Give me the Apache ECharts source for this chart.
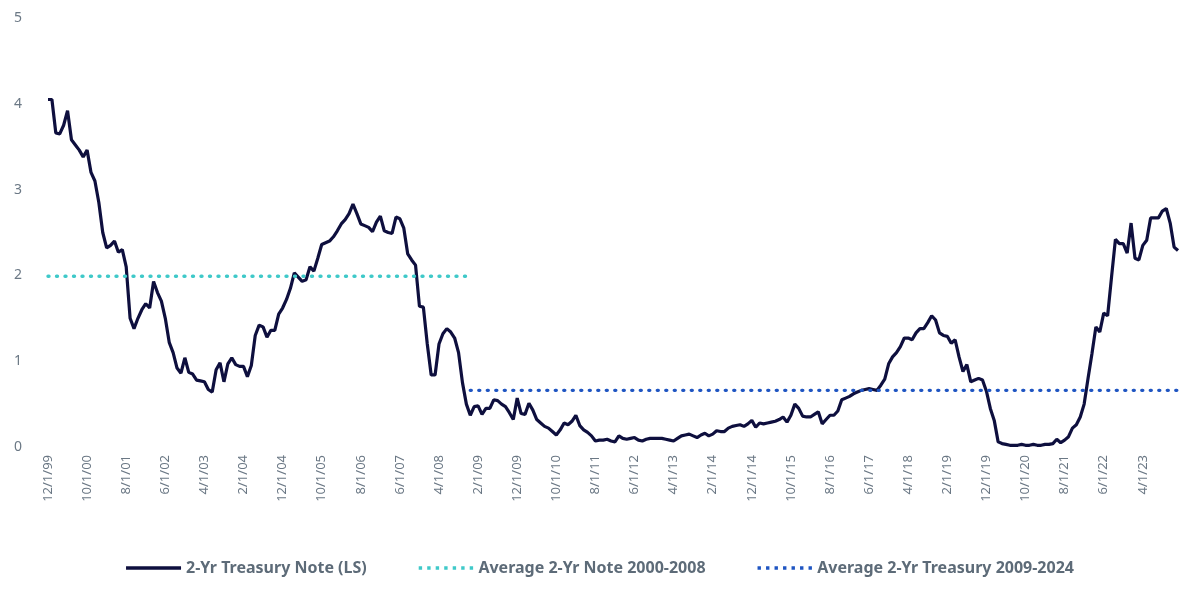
<!DOCTYPE html>
<html><head><meta charset="utf-8">
<script src="https://cdn.jsdelivr.net/npm/echarts@6/dist/echarts.min.js"></script>
<style>html,body{margin:0;padding:0;background:#fff}#c{width:1200px;height:595px}</style>
</head><body><div id="c"></div>
<script>
const startYear = 1999, startMonth = 12;
const yields2yr = [
4.05,4.05,3.66,3.65,3.75,3.92,3.58,3.52,3.46,3.38,
3.46,3.2,3.1,2.85,2.5,2.32,2.35,2.4,2.27,2.3,
2.1,1.5,1.38,1.5,1.6,1.67,1.62,1.93,1.8,1.7,
1.5,1.22,1.1,0.92,0.86,1.04,0.87,0.85,0.78,0.77,
0.76,0.67,0.64,0.9,0.98,0.76,0.97,1.04,0.96,0.94,
0.94,0.82,0.95,1.3,1.42,1.4,1.28,1.36,1.36,1.55,
1.62,1.72,1.85,2.03,1.98,1.93,1.95,2.1,2.05,2.2,
2.36,2.38,2.4,2.45,2.52,2.6,2.65,2.72,2.83,2.72,
2.6,2.58,2.56,2.51,2.62,2.69,2.52,2.5,2.49,2.68,
2.66,2.55,2.25,2.18,2.12,1.64,1.63,1.2,0.84,0.84,
1.2,1.32,1.38,1.34,1.27,1.1,0.75,0.5,0.37,0.47,
0.48,0.38,0.45,0.45,0.55,0.54,0.5,0.47,0.4,0.32,
0.57,0.39,0.38,0.51,0.43,0.32,0.28,0.24,0.22,0.18,
0.14,0.2,0.28,0.26,0.3,0.37,0.25,0.2,0.17,0.13,
0.07,0.08,0.08,0.09,0.07,0.06,0.13,0.1,0.09,0.1,
0.11,0.08,0.07,0.09,0.1,0.1,0.1,0.1,0.09,0.08,
0.07,0.1,0.13,0.14,0.15,0.13,0.11,0.14,0.16,0.13,
0.15,0.19,0.18,0.18,0.22,0.24,0.25,0.26,0.24,0.27,
0.31,0.23,0.28,0.27,0.28,0.29,0.3,0.32,0.35,0.29,
0.37,0.5,0.45,0.36,0.35,0.35,0.38,0.41,0.27,0.32,
0.37,0.37,0.42,0.55,0.57,0.59,0.62,0.64,0.66,0.67,
0.68,0.67,0.66,0.72,0.79,0.97,1.05,1.1,1.17,1.27,
1.27,1.25,1.33,1.38,1.38,1.45,1.53,1.48,1.33,1.3,
1.29,1.21,1.25,1.05,0.88,0.96,0.76,0.78,0.8,0.78,
0.65,0.45,0.31,0.06,0.04,0.03,0.02,0.02,0.02,0.03,
0.02,0.02,0.03,0.02,0.02,0.03,0.03,0.04,0.09,0.05,
0.08,0.12,0.22,0.26,0.35,0.5,0.8,1.09,1.4,1.34,
1.56,1.53,1.98,2.42,2.37,2.37,2.26,2.61,2.2,2.18,
2.35,2.41,2.67,2.67,2.67,2.75,2.78,2.61,2.33,2.29];
const avg2000_2008 = 1.99;
const avg2009_2024 = 0.66;
const avg1End = 107;
const avg2Start = 108;
const yTicks = [0,1,2,3,4,5];

const categories = yields2yr.map((_, i) => {
  const m0 = startMonth - 1 + i;
  const y = startYear + Math.floor(m0 / 12);
  const m = (m0 % 12) + 1;
  return m + '/1/' + String(y % 100).padStart(2, '0');
});
const avg1 = yields2yr.map((_, i) => i <= avg1End ? avg2000_2008 : null);
const avg2 = yields2yr.map((_, i) => i >= avg2Start ? avg2009_2024 : null);

let dots = '';
for (let k = 0; k < 7; k++) dots += 'M' + (k * 8.5) + ',0h3.4v3.4h-3.4Z';
const dotIcon = 'path://' + dots;

const chart = echarts.init(document.getElementById('c'));
chart.setOption({
  animation: false,
  grid: { left: 48, right: 22, top: 18, bottom: 148 },
  xAxis: {
    type: 'category', data: categories, boundaryGap: false,
    axisLine: { show: false }, axisTick: { show: false },
    axisLabel: { interval: 9, rotate: 90, color: '#6b7885', fontSize: 13, fontFamily: 'Noto Sans', margin: 8 }
  },
  yAxis: {
    type: 'value', min: 0, max: 5, interval: 1,
    splitLine: { show: false }, axisLine: { show: false }, axisTick: { show: false },
    axisLabel: { color: '#6b7885', fontSize: 14, fontFamily: 'Noto Sans', margin: 26,
      formatter: v => yTicks.includes(v) ? String(v) : '' }
  },
  legend: {
    bottom: 14, left: 'center', itemWidth: 55, itemHeight: 3.4, itemGap: 52,
    textStyle: { color: '#5d6b78', fontSize: 16, fontWeight: 'bold', fontFamily: 'Noto Sans' },
    data: [
      { name: '2-Yr Treasury Note (LS)', icon: 'path://M0,0H55V3.4H0Z' },
      { name: 'Average 2-Yr Note 2000-2008', icon: dotIcon },
      { name: 'Average 2-Yr Treasury 2009-2024', icon: dotIcon }
    ]
  },
  series: [
    { name: '2-Yr Treasury Note (LS)', type: 'line', data: yields2yr, showSymbol: false,
      lineStyle: { color: '#0e0f3e', width: 3.2 }, itemStyle: { color: '#0e0f3e' } },
    { name: 'Average 2-Yr Note 2000-2008', type: 'line', data: avg1, showSymbol: false,
      lineStyle: { color: '#3fc9c9', width: 3.4, type: [1, 7.5], cap: 'round' }, itemStyle: { color: '#3fc9c9' } },
    { name: 'Average 2-Yr Treasury 2009-2024', type: 'line', data: avg2, showSymbol: false,
      lineStyle: { color: '#1f55c2', width: 3.4, type: [1, 7.5], cap: 'round' }, itemStyle: { color: '#1f55c2' } }
  ]
});
</script></body></html>
